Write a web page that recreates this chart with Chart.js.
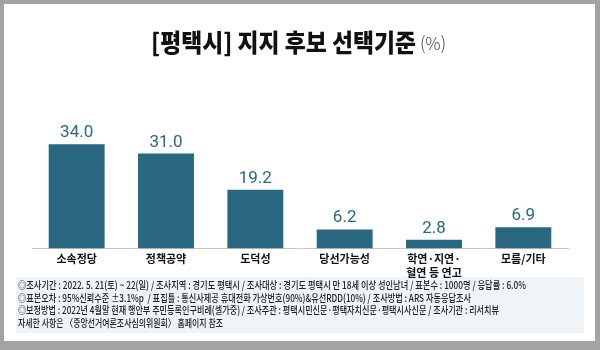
<!DOCTYPE html>
<html>
<head>
<meta charset="utf-8">
<script src="https://cdn.jsdelivr.net/npm/chart.js@4"></script>
<style>
  body { margin: 0; background: #a3a3a3; }
  #frame { position: absolute; left: 4px; top: 4px; width: 591px; height: 337px; background: #fff; }
  #wrap { position: absolute; left: 0; top: 0; width: 600px; height: 350px; }
</style>
</head>
<body>
<div id="frame"></div>
<div id="wrap"><canvas id="canvas1" width="600" height="350"></canvas></div>
<script>
var labels = ["소속정당", "정책공약", "도덕성", "당선가능성", ["학연·지연·", "혈연 등 연고"], "모름/기타"];
var values = [34.0, 31.0, 19.2, 6.2, 2.8, 6.9];

var titleText = "[평택시] 지지 후보 선택기준";
var unitText = "(%)";
var notes = [
  "◎조사기간 : 2022. 5. 21(토) ~ 22(일) / 조사지역 : 경기도 평택시 / 조사대상 : 경기도 평택시 만 18세 이상 성인남녀 / 표본수 : 1000명 / 응답률 : 6.0%",
  "◎표본오차 : 95%신뢰수준 ±3.1%p  / 표집틀 : 통신사제공 휴대전화 가상번호(90%)&유선RDD(10%) / 조사방법 : ARS 자동응답조사",
  "◎보정방법 : 2022년 4월말 현재 행안부 주민등록인구비례(셀가중) / 조사주관 : 평택시민신문·평택자치신문·평택시사신문 / 조사기관 : 리서치뷰",
  "자세한 사항은 〈중앙선거여론조사심의위원회〉 홈페이지 참조"
];
var noteWidths = [508, 453, 481, 205];

var barColor = "#2a6780";
var cjk = "'Noto Sans CJK KR', 'Noto Sans', sans-serif";

// draw text squeezed to a given width
function drawFit(ctx, text, x, y, w) {
  var m = ctx.measureText(text).width;
  ctx.save();
  ctx.translate(x, y);
  ctx.scale(Math.min(1, w / m), 1);
  ctx.fillText(text, 0, 0);
  ctx.restore();
}

var decor = {
  id: "decor",
  beforeDraw: function(chart) {
    var ctx = chart.ctx;
    ctx.save();
    ctx.fillStyle = "#eef4f7";
    ctx.fillRect(16, 277, 568, 56);
    ctx.restore();
  },
  afterDraw: function(chart) {
    var ctx = chart.ctx;
    ctx.save();
    ctx.textBaseline = "middle";
    ctx.textAlign = "left";
    ctx.fillStyle = "#111";
    ctx.font = "900 25px " + cjk;
    drawFit(ctx, titleText, 151, 42, 265);
    ctx.fillStyle = "#444";
    ctx.font = "300 18px " + cjk;
    drawFit(ctx, unitText, 420, 43, 26);

    ctx.fillStyle = "#222";
    ctx.font = "500 10.5px " + cjk;
    for (var i = 0; i < notes.length; i++) {
      drawFit(ctx, notes[i], 18, 285 + i * 12.7, noteWidths[i]);
    }
    ctx.restore();
  },
  afterDatasetsDraw: function(chart) {
    var ctx = chart.ctx;
    var meta = chart.getDatasetMeta(0);
    ctx.save();
    ctx.fillStyle = barColor;
    ctx.font = "17px Roboto, sans-serif";
    ctx.textAlign = "center";
    ctx.textBaseline = "alphabetic";
    meta.data.forEach(function(bar, i) {
      ctx.fillText(values[i].toFixed(1), bar.x, bar.y - 7);
    });
    ctx.restore();
  }
};

var chart = new Chart(document.getElementById("canvas1"), {
  type: "bar",
  data: {
    labels: labels,
    datasets: [{
      data: values,
      backgroundColor: barColor,
      barPercentage: 0.626,
      categoryPercentage: 1
    }]
  },
  options: {
    responsive: false,
    animation: false,
    layout: { padding: { left: 32, right: 32, top: 126, bottom: 67 } },
    plugins: { legend: { display: false }, tooltip: { enabled: false } },
    scales: {
      y: { display: false, min: 0, max: 40 },
      x: {
        grid: { display: false, drawTicks: false },
        border: { display: true, color: "#c8c8c8", width: 1 },
        ticks: {
          color: "#111",
          padding: 3,
          maxRotation: 0,
          autoSkip: false,
          font: { family: cjk, size: 11, weight: "bold", lineHeight: 1.3 }
        }
      }
    }
  },
  plugins: [decor]
});
</script>
</body>
</html>
